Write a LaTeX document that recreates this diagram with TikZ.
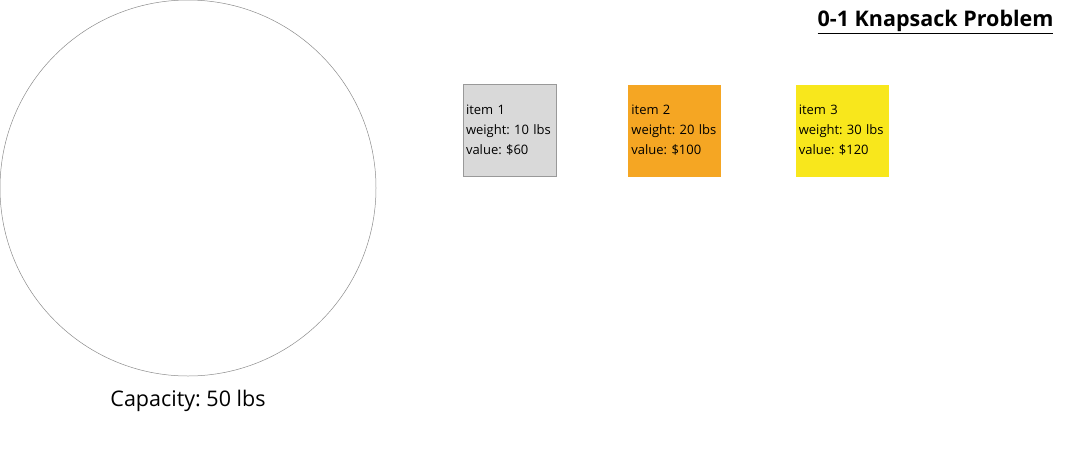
\documentclass[tikz,border=0pt]{standalone}
\usepackage{fontspec}
\setmainfont{Open Sans}
\frenchspacing
\usetikzlibrary{positioning}
\tikzstyle{item} = [rectangle, minimum width=93pt, minimum height=92pt,
    text width=87pt, inner xsep=3pt, inner ysep=5pt, align=left,
    font=\fontsize{13}{20}\selectfont]
\tikzstyle{bag} = [circle, draw=black!45, line width=0.5pt, minimum size=376pt, inner sep=0pt]
\definecolor{itemgray}{HTML}{D9D9D9}
\definecolor{itemorange}{HTML}{F5A623}
\definecolor{itemyellow}{HTML}{F8E71C}

\begin{document}
\begin{tikzpicture}[x=1pt, y=-1pt, node distance=72pt]
    \useasboundingbox (0,0) rectangle (1065,461);
    % Place nodes
    \node [bag] (sack) at (188,188) {};
    \node [font=\fontsize{21.5}{26}\selectfont, below=10pt of sack] (capacity) {Capacity: 50 lbs};
    \node [item, draw=black!40, fill=itemgray] (item1) at (509.5,130.5) {item 1\\weight: 10 lbs\\value: \$60};
    \node [item, fill=itemorange, right=of item1] (item2) {item 2\\weight: 20 lbs\\value: \$100};
    \node [item, fill=itemyellow, right=74pt of item2] (item3) {item 3\\weight: 30 lbs\\value: \$120};
    \node [anchor=east, font=\bfseries\fontsize{21.5}{26}\selectfont] (title) at (1057,22) {\underline{0-1 Knapsack Problem}};
\end{tikzpicture}
\end{document}
